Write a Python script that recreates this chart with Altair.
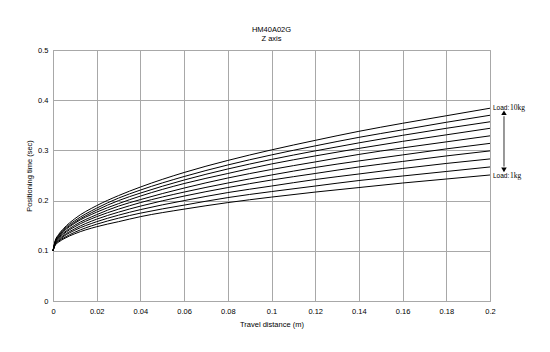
import altair as alt
import pandas as pd

# Travel distance (m)
distance = [0, 0.001, 0.0025, 0.005, 0.01, 0.02, 0.03, 0.04, 0.06, 0.08,
            0.1, 0.12, 0.14, 0.16, 0.18, 0.2]

# Positioning time (sec) per load
load_10kg = [0.1, 0.120, 0.132, 0.145, 0.164, 0.190, 0.210, 0.227, 0.256, 0.280, 0.301, 0.320, 0.338, 0.354, 0.369, 0.384]
load_9kg = [0.1, 0.119, 0.130, 0.143, 0.160, 0.185, 0.205, 0.221, 0.248, 0.271, 0.291, 0.309, 0.326, 0.341, 0.356, 0.370]
load_8kg = [0.1, 0.118, 0.129, 0.141, 0.157, 0.181, 0.200, 0.215, 0.241, 0.263, 0.282, 0.299, 0.315, 0.330, 0.344, 0.357]
load_7kg = [0.1, 0.117, 0.127, 0.139, 0.155, 0.177, 0.194, 0.209, 0.234, 0.254, 0.273, 0.289, 0.304, 0.318, 0.331, 0.344]
load_6kg = [0.1, 0.116, 0.126, 0.136, 0.151, 0.172, 0.189, 0.202, 0.225, 0.245, 0.262, 0.277, 0.292, 0.305, 0.317, 0.329]
load_5kg = [0.1, 0.115, 0.124, 0.134, 0.148, 0.168, 0.183, 0.196, 0.217, 0.235, 0.251, 0.266, 0.279, 0.291, 0.303, 0.314]
load_4kg = [0.1, 0.114, 0.122, 0.131, 0.144, 0.163, 0.177, 0.189, 0.209, 0.226, 0.241, 0.254, 0.267, 0.278, 0.289, 0.299]
load_3kg = [0.1, 0.113, 0.120, 0.129, 0.141, 0.158, 0.171, 0.182, 0.200, 0.216, 0.229, 0.242, 0.253, 0.264, 0.274, 0.283]
load_2kg = [0.1, 0.112, 0.119, 0.126, 0.137, 0.153, 0.165, 0.175, 0.191, 0.206, 0.218, 0.229, 0.240, 0.249, 0.258, 0.267]
load_1kg = [0.1, 0.111, 0.117, 0.124, 0.134, 0.148, 0.158, 0.168, 0.183, 0.196, 0.207, 0.217, 0.226, 0.235, 0.243, 0.251]

series = {
    "10kg": load_10kg, "9kg": load_9kg, "8kg": load_8kg, "7kg": load_7kg,
    "6kg": load_6kg, "5kg": load_5kg, "4kg": load_4kg, "3kg": load_3kg,
    "2kg": load_2kg, "1kg": load_1kg,
}

x_ticks = [0, 0.02, 0.04, 0.06, 0.08, 0.1, 0.12, 0.14, 0.16, 0.18, 0.2]
y_ticks = [0, 0.1, 0.2, 0.3, 0.4, 0.5]

# Annotation data
label_loads = ["10kg", "1kg"]
label_x = [0.2, 0.2]
label_y = [0.385, 0.250]
arrow_x = [0.2064]
arrow_top = [0.368]
arrow_bottom = [0.268]
head_y = [0.375, 0.2614]
head_shape = ["triangle-up", "triangle-down"]

rows = []
for load, vals in series.items():
    for xv, yv in zip(distance, vals):
        rows.append({"load": load, "d": xv, "t": yv})
df = pd.DataFrame(rows)

FONT = "Liberation Sans"
GRID = "#a8a8a8"

xscale = alt.Scale(domain=[0, 0.2], nice=False)
yscale = alt.Scale(domain=[0, 0.5], nice=False)

xaxis = alt.Axis(values=x_ticks, title="Travel distance (m)", grid=True, gridColor=GRID,
                 gridWidth=1, domainColor=GRID, ticks=False, labelPadding=6, labelFlush=False,
                 labelFont=FONT, labelFontSize=7.5, labelColor="black", titleFont=FONT,
                 titleFontSize=7.5, titleFontWeight="normal", titleColor="black",
                 titlePadding=6, labelExpr="format(datum.value, '~g')")
yaxis = alt.Axis(values=y_ticks, title="Positioning time (sec)", grid=True, gridColor=GRID,
                 gridWidth=1, domainColor=GRID, ticks=False, labelPadding=5, labelFlush=False,
                 labelFont=FONT, labelFontSize=7.5, labelColor="black", titleFont=FONT,
                 titleFontSize=7.5, titleFontWeight="normal", titleColor="black",
                 titlePadding=4, labelExpr="format(datum.value, '~g')")

lines = alt.Chart(df).mark_line(color="black", strokeWidth=1, interpolate="monotone").encode(
    x=alt.X("d:Q", scale=xscale, axis=xaxis),
    y=alt.Y("t:Q", scale=yscale, axis=yaxis),
    detail="load:N",
)

lab_df = pd.DataFrame({"x": label_x, "y": label_y, "load": label_loads})
load_word = alt.Chart(lab_df).mark_text(align="left", baseline="middle", dx=3, dy=0,
                                         font=FONT, fontSize=6.5, color="black", clip=False).encode(
    x=alt.X("x:Q", scale=xscale), y=alt.Y("y:Q", scale=yscale), text=alt.value("Load:"))
load_val = alt.Chart(lab_df).mark_text(align="left", baseline="middle", dx=20, dy=0,
                                        font="Liberation Serif", fontSize=7.5, color="black", clip=False).encode(
    x=alt.X("x:Q", scale=xscale), y=alt.Y("y:Q", scale=yscale), text="load:N")

arrow_df = pd.DataFrame({"x": arrow_x, "y1": arrow_top, "y2": arrow_bottom})
arrow = alt.Chart(arrow_df).mark_rule(color="#777777", strokeWidth=1.5, clip=False).encode(
    x=alt.X("x:Q", scale=xscale), y=alt.Y("y1:Q", scale=yscale), y2="y2:Q")

head_df = pd.DataFrame({"x": arrow_x * 2, "y": head_y, "shape": head_shape})
heads = alt.Chart(head_df).mark_point(filled=True, color="black", size=30, opacity=1, clip=False).encode(
    x=alt.X("x:Q", scale=xscale), y=alt.Y("y:Q", scale=yscale),
    shape=alt.Shape("shape:N", scale=None))

chart = alt.layer(lines, load_word, load_val, arrow, heads).properties(
    width=437, height=251,
    autosize=alt.AutoSizeParams(type="none"),
    padding={"left": 53, "top": 50, "right": 60, "bottom": 51},
    background="white",
    title=alt.TitleParams(text=["HM40A02G", "Z axis"], font=FONT, fontSize=7.5,
                          fontWeight="normal", color="black", anchor="middle", offset=4,
                          lineHeight=8.5),
).configure_view(stroke=GRID, strokeWidth=1)

chart.save("out.html", embed_options={"renderer": "svg", "actions": False})
